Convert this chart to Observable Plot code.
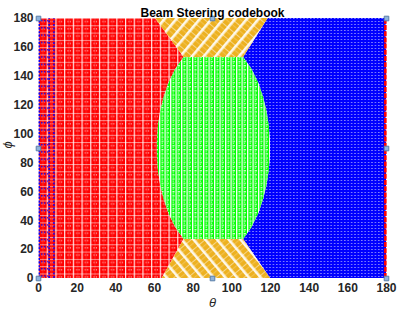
<!DOCTYPE html>
<html><head><meta charset="utf-8">
<script src="https://cdn.jsdelivr.net/npm/d3@7"></script>
<script src="https://cdn.jsdelivr.net/npm/@observablehq/plot@0.6"></script>
<style>body{margin:0;background:#fff;} svg{display:block;}</style>
</head><body><div id="chart"></div>
<script>
// Region boundaries (theta at each phi)
const bandPhi  = [0, 27, 35, 45, 55, 65, 75, 85, 95, 105, 115, 125, 135, 145, 153, 180];
const redEdge  = [64, 75.3, 71.1, 67.4, 64.9, 63.1, 62.0, 61.5, 61.5, 62.0, 63.1, 64.9, 67.4, 71.1, 75.3, 60.5];
const blueEdge = [120, 106.1, 110.3, 114.0, 116.5, 118.3, 119.4, 119.9, 119.9, 119.4, 118.3, 116.5, 114.0, 110.3, 106.1, 118.8];
// Green (ellipse) region
const greenPhi   = [27, 35, 45, 55, 65, 75, 85, 95, 105, 115, 125, 135, 145, 153];
const greenLeft  = [75.3, 71.1, 67.4, 64.9, 63.1, 62.0, 61.5, 61.5, 62.0, 63.1, 64.9, 67.4, 71.1, 75.3];
const greenRight = [106.1, 110.3, 114.0, 116.5, 118.3, 119.4, 119.9, 119.9, 119.4, 118.3, 116.5, 114.0, 110.3, 106.1];
const thetaDomain = [0, 180];
const phiDomain = [0, 180];
// Dotted strips at the edges
const leftStripTheta = [0.4, 5.5, 8];
const rightStripTheta = [179.4];
// Reference markers
const markTheta = [0, 0, 0, 90, 90, 180, 180, 180];
const markPhi   = [0, 90, 180, 0, 180, 0, 90, 180];
// Ticks
const xTicks = [0, 20, 40, 60, 80, 100, 120, 140, 160, 180];
const yTicks = [0, 20, 40, 60, 80, 100, 120, 140, 160, 180];
const titleText = "Beam Steering codebook";
const xLabel = "θ";
const yLabel = "ϕ";

const rows = bandPhi.map((phi, i) => ({phi, red: redEdge[i], blue: blueEdge[i]}));
const greenRows = greenPhi.map((phi, i) => ({phi, l: greenLeft[i], r: greenRight[i]}));
const markers = markTheta.map((t, i) => ({t, p: markPhi[i]}));
const orangeBottom = rows.filter(d => d.phi <= greenPhi[0]);
const orangeTop = rows.filter(d => d.phi >= greenPhi[greenPhi.length - 1]);

const font = '"Liberation Sans", Arial, Helvetica, sans-serif';
const plot = Plot.plot({
  width: 399, height: 312,
  marginTop: 18, marginLeft: 38, marginRight: 13, marginBottom: 34,
  style: {fontFamily: font, fontSize: "12px", fontWeight: "bold", color: "#262626", background: "white"},
  x: {domain: thetaDomain, ticks: xTicks, label: null, tickSize: 0, tickPadding: 5},
  y: {domain: phiDomain, ticks: yTicks, label: null, tickSize: 0, tickPadding: 5},
  marks: [
    Plot.areaX(rows, {y: "phi", x1: () => thetaDomain[0], x2: "red", fill: "url(#pRed)"}),
    Plot.areaX(rows, {y: "phi", x1: "blue", x2: () => thetaDomain[1], fill: "url(#pBlue)"}),
    Plot.areaX(orangeBottom, {y: "phi", x1: "red", x2: "blue", fill: "url(#pOrangeB)"}),
    Plot.areaX(orangeTop, {y: "phi", x1: "red", x2: "blue", fill: "url(#pOrangeT)"}),
    Plot.areaX(greenRows, {y: "phi", x1: "l", x2: "r", fill: "url(#pGreen)"}),
    Plot.ruleX(leftStripTheta, {x: d => d, y1: phiDomain[0], y2: phiDomain[1], stroke: "#0000ff", strokeWidth: 1.4, strokeDasharray: "2,1.6"}),
    Plot.areaX(rows, {y: "phi", x1: () => leftStripTheta[0], x2: () => leftStripTheta[1], fill: "url(#pLeft)"}),
    Plot.ruleX(rightStripTheta, {x: d => d, y1: phiDomain[0], y2: phiDomain[1], stroke: "#ff0000", strokeWidth: 2.6, strokeDasharray: "5,1.2"}),
    Plot.dot(markers, {x: "t", y: "p", symbol: "square", r: 2.6, fill: "#8fb3dc", stroke: "#5b7fa8", strokeWidth: 1}),
    Plot.text([titleText], {text: d => d, frameAnchor: "top", dy: -10.5, fontSize: 12, fontWeight: "bold", fill: "#000"}),
    Plot.text([xLabel], {text: d => d, frameAnchor: "bottom", dy: 28, fontSize: 13, fontStyle: "italic", fontWeight: "normal", fill: "#262626"}),
    Plot.text([yLabel], {text: d => d, frameAnchor: "left", dx: -31, rotate: -90, fontSize: 13, fontStyle: "italic", fontWeight: "normal", fill: "#262626"})
  ]
});

const ns = "http://www.w3.org/2000/svg";
const defs = document.createElementNS(ns, "defs");
defs.innerHTML = `
<pattern id="pRed" patternUnits="userSpaceOnUse" x="38" y="18" width="8.7" height="7.3">
  <rect width="8.7" height="7.3" fill="#ff0000"/>
  <rect x="0" y="0" width="1.2" height="7.3" fill="#ffffff" opacity="0.9"/>
  <rect x="0" y="0" width="8.7" height="1" fill="#ffffff" opacity="0.55"/>
  <rect x="3.3" y="3" width="1.1" height="1.1" fill="#ffffff" opacity="0.75"/>
  <rect x="5.7" y="3" width="1.1" height="1.1" fill="#ffffff" opacity="0.75"/>
  <rect x="4.5" y="0" width="0.6" height="7.3" fill="#ffffff" opacity="0.25"/>
</pattern>
<pattern id="pBlue" patternUnits="userSpaceOnUse" x="38" y="18" width="3.4" height="3">
  <rect width="3.4" height="3" fill="#0000ff"/>
  <rect x="0" y="0" width="1.6" height="1" fill="#7f7fff"/>
</pattern>
<pattern id="pGreen" patternUnits="userSpaceOnUse" x="38" y="18" width="5.5" height="4.2">
  <rect width="5.5" height="4.2" fill="#00ff00"/>
  <rect x="0" y="0" width="1.3" height="4.2" fill="#ffffff"/>
  <rect x="2.4" y="0.9" width="2" height="1.2" fill="#ffffff"/>
  <rect x="2.6" y="3" width="1.1" height="1" fill="#ffffff"/>
</pattern>
<pattern id="pOrangeT" patternUnits="userSpaceOnUse" x="38" y="18" width="9" height="9" patternTransform="rotate(40)">
  <rect width="9" height="9" fill="#edb120"/>
  <rect x="0" y="0" width="2.6" height="9" fill="#ffffff" opacity="0.9"/>
  <rect x="0" y="0" width="9" height="0.8" fill="#ffffff" opacity="0.6"/>
  <rect x="0" y="4.5" width="9" height="0.6" fill="#ffffff" opacity="0.4"/>
</pattern>
<pattern id="pOrangeB" patternUnits="userSpaceOnUse" x="38" y="18" width="9" height="9" patternTransform="rotate(-40)">
  <rect width="9" height="9" fill="#edb120"/>
  <rect x="0" y="0" width="2.6" height="9" fill="#ffffff" opacity="0.9"/>
  <rect x="0" y="0" width="9" height="0.8" fill="#ffffff" opacity="0.6"/>
  <rect x="0" y="4.5" width="9" height="0.6" fill="#ffffff" opacity="0.4"/>
</pattern>
<pattern id="pLeft" patternUnits="userSpaceOnUse" x="38" y="18" width="3" height="7.3">
  <rect width="3" height="7.3" fill="none"/>
  <rect x="0" y="2" width="1.5" height="1.2" fill="#0000ff"/>
</pattern>`;
plot.insertBefore(defs, plot.firstChild);
document.getElementById("chart").appendChild(plot);
</script>
</body></html>
